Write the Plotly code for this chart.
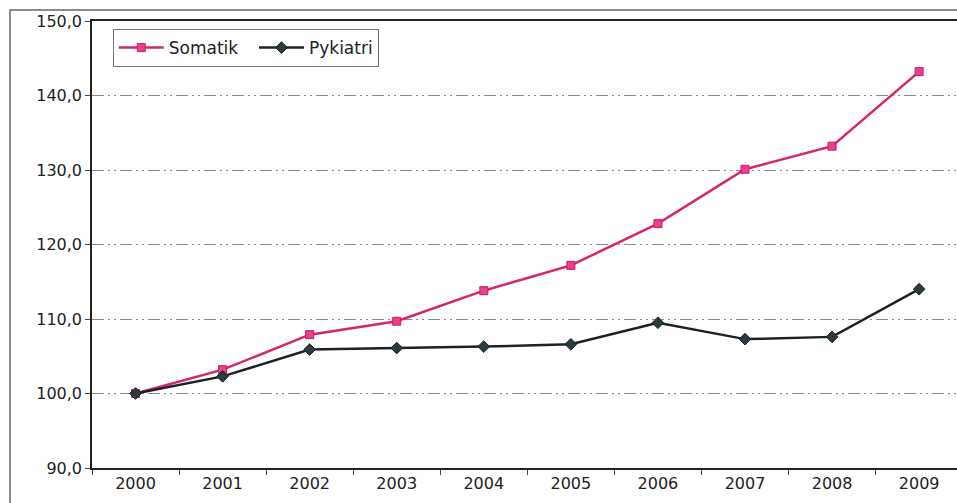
import plotly.graph_objects as go

years = ["2000", "2001", "2002", "2003", "2004", "2005", "2006", "2007", "2008", "2009"]
somatik = [100.0, 103.2, 107.9, 109.7, 113.8, 117.2, 122.8, 130.1, 133.2, 143.2]
pykiatri = [100.0, 102.3, 105.9, 106.1, 106.3, 106.6, 109.5, 107.3, 107.6, 114.0]
y_ticks = [90, 100, 110, 120, 130, 140, 150]

fig = go.Figure()
fig.add_trace(go.Scatter(
    x=years, y=somatik, name="Somatik\u00a0\u00a0", mode="lines+markers",
    line=dict(color="#d6246e", width=2.5),
    marker=dict(symbol="square", size=8, color="#e8408c", line=dict(color="#c81a62", width=1)),
))
fig.add_trace(go.Scatter(
    x=years, y=pykiatri, name="Pykiatri", mode="lines+markers",
    line=dict(color="#1c2126", width=2.5),
    marker=dict(symbol="diamond", size=9, color="#2b3a3c", line=dict(color="#1c2126", width=1)),
))

font = "DejaVu Sans, Verdana, sans-serif"
fig.update_layout(
    width=957, height=503,
    margin=dict(l=92, r=0, t=21, b=35),
    paper_bgcolor="white", plot_bgcolor="white",
    separators=",.",
    font=dict(family=font, size=16, color="#222"),
    showlegend=True,
    legend=dict(
        orientation="h", x=0.024, y=0.982, xanchor="left", yanchor="top",
        bgcolor="white", bordercolor="#777", borderwidth=1,
        font=dict(family=font, size=17, color="#222"),
        tracegroupgap=0, itemwidth=45,
    ),
    xaxis=dict(
        type="category", range=[-0.5, 9.435],
        showline=True, linecolor="#222", linewidth=1.5, mirror=True,
        ticks="outside", ticklen=5, tickcolor="#444", tickson="boundaries",
        showgrid=False, zeroline=False,
        tickfont=dict(family=font, size=16, color="#222"),
    ),
    yaxis=dict(
        range=[90, 150], tickvals=y_ticks, tickformat=".1f",
        showline=True, linecolor="#222", linewidth=1.5, mirror=False,
        ticks="outside", ticklen=5, tickcolor="#444",
        showgrid=True, gridcolor="#8a8a8a", gridwidth=1, griddash="12px,4px,2px,4px,2px,4px",
        zeroline=False,
        tickfont=dict(family=font, size=16, color="#222"),
    ),
    shapes=[dict(
        type="rect", xref="paper", yref="paper",
        x0=(10 - 92) / 865, x1=1.2, y0=-0.3, y1=(468 - 10) / 447,
        line=dict(color="#666", width=1.5), fillcolor="rgba(0,0,0,0)", layer="below",
    )],
)

fig.write_html("out.html")
